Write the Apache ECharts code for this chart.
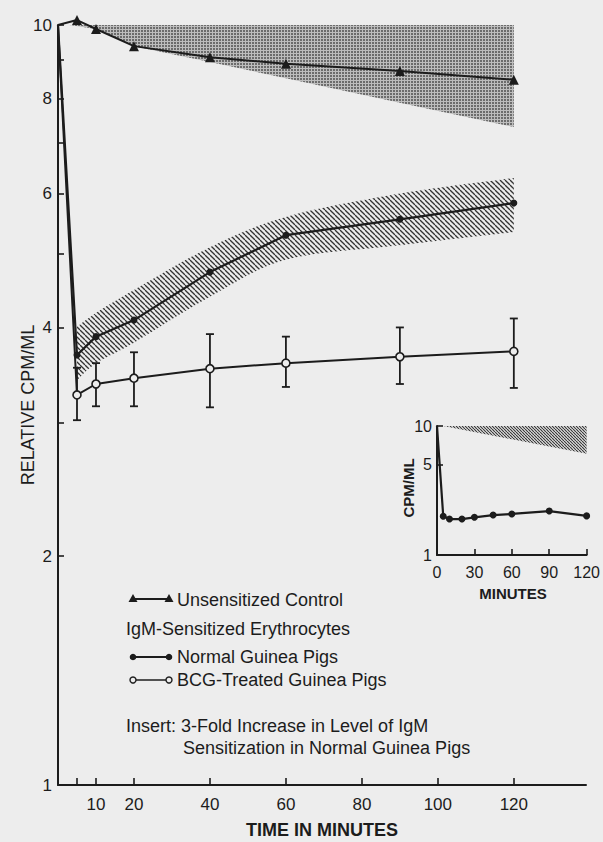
<!DOCTYPE html>
<html><head><meta charset="utf-8">
<script src="https://cdn.jsdelivr.net/npm/echarts@6/dist/echarts.min.js"></script>
<style>html,body{margin:0;padding:0;background:#ededed}#c{width:603px;height:842px}</style>
</head><body><div id="c"></div>
<script>
// ---------------- data ----------------
const timeMain = [0, 5, 10, 20, 40, 60, 90, 120];
const controlVals = [10, 10.15, 9.88, 9.38, 9.07, 8.89, 8.70, 8.47];
const normalVals = [10, 3.68, 3.89, 4.09, 4.73, 5.29, 5.55, 5.83];
const bcgVals = [10, 3.26, 3.37, 3.43, 3.53, 3.59, 3.66, 3.72];
const bcgErrTime = [5, 10, 20, 40, 60, 90, 120];
const bcgErrHigh = [3.54, 3.59, 3.71, 3.92, 3.89, 4.00, 4.11];
const bcgErrLow = [3.02, 3.15, 3.15, 3.14, 3.34, 3.37, 3.33];
const controlBandX = [3, 10, 20, 40, 60, 90, 120];
const controlBandHigh = [10, 10, 10, 10, 10, 10, 10];
const controlBandLow = [10, 9.88, 9.38, 8.94, 8.51, 7.90, 7.34];
const normalBandX = [5, 10, 20, 40, 60, 90, 120];
const normalBandHigh = [4.01, 4.18, 4.48, 5.10, 5.59, 6.00, 6.29];
const normalBandLow = [3.41, 3.59, 3.82, 4.39, 4.91, 5.13, 5.34];
const insetTime = [0, 5, 10, 20, 30, 45, 60, 90, 120];
const insetVals = [10, 2.00, 1.90, 1.90, 1.96, 2.04, 2.08, 2.19, 2.01];
const insetBandX = [5, 120];
const insetBandHigh = [10, 10];
const insetBandLow = [10, 6.1];
const mainXTicks = [5, 10, 20, 40, 60, 80, 100, 120];
const mainXLabels = [10, 20, 40, 60, 80, 100, 120];
const mainYTicks = [2, 3, 4, 5, 6, 7, 8, 9, 10];
const mainYLabels = [1, 2, 4, 6, 8, 10];
const insetXTicks = [30, 60, 90, 120];
const insetXLabels = [0, 30, 60, 90, 120];
const insetYTicks = [5, 10];
const insetYLabels = [1, 5, 10];
const legendNames = ['Unsensitized Control', 'Normal Guinea Pigs', 'BCG-Treated Guinea Pigs'];
const legendHeading = 'IgM-Sensitized Erythrocytes';
const insertNote1 = 'Insert: 3-Fold Increase in Level of IgM';
const insertNote2 = 'Sensitization in Normal Guinea Pigs';

// ---------------- styles ----------------
const INK = '#1c1c1c';
const BG = '#ededed';
const FONT = "'Liberation Sans', Arial, sans-serif";

function makePattern(kind) {
  const c = document.createElement('canvas');
  let w, h;
  const ctx = c.getContext('2d');
  if (kind === 'stipple') {
    w = 3; h = 3; c.width = w; c.height = h;
    ctx.fillStyle = '#bdbdbd'; ctx.fillRect(0, 0, 3, 3);
    ctx.fillStyle = '#6c6c6c'; ctx.fillRect(0, 0, 2, 2);
  } else {
    const s = kind === 'hatch' ? 5 : 3;
    w = s; h = s; c.width = s; c.height = s;
    ctx.strokeStyle = kind === 'hatch' ? '#333333' : '#3a3a3a';
    ctx.lineWidth = kind === 'hatch' ? 1.3 : 1.2;
    for (const k of [-s, 0, s]) {
      ctx.beginPath(); ctx.moveTo(k, 0); ctx.lineTo(k + s, s); ctx.stroke();
    }
  }
  return { image: c.toDataURL(), repeat: 'repeat', imageWidth: w, imageHeight: h };
}
const stipple = makePattern('stipple');
const hatch = makePattern('hatch');
const fineHatch = makePattern('fine');

function spline(pts) {
  let d = '';
  for (let i = 0; i < pts.length - 1; i++) {
    const p0 = pts[i - 1] || pts[i], p1 = pts[i], p2 = pts[i + 1], p3 = pts[i + 2] || pts[i + 1];
    const c1 = [p1[0] + (p2[0] - p0[0]) / 6, p1[1] + (p2[1] - p0[1]) / 6];
    const c2 = [p2[0] - (p3[0] - p1[0]) / 6, p2[1] - (p3[1] - p1[1]) / 6];
    d += ' C' + c1[0] + ',' + c1[1] + ' ' + c2[0] + ',' + c2[1] + ' ' + p2[0] + ',' + p2[1];
  }
  return d;
}
function bandSeries(xs, lo, hi, xi, fill, smooth) {
  return {
    type: 'custom', xAxisIndex: xi, yAxisIndex: xi, z: 1, silent: true,
    data: xs.map((x, i) => [x, lo[i], hi[i]]),
    renderItem: function (params, api) {
      if (params.dataIndex !== 0) return null;
      const up = xs.map((x, i) => api.coord([x, hi[i]]));
      const dn = xs.map((x, i) => api.coord([x, lo[i]])).reverse();
      let d;
      if (smooth) {
        d = 'M' + up[0][0] + ',' + up[0][1] + spline(up) + ' L' + dn[0][0] + ',' + dn[0][1] + spline(dn) + ' Z';
      } else {
        d = 'M' + up.map(p => p[0] + ',' + p[1]).join(' L') + ' L' + dn.map(p => p[0] + ',' + p[1]).join(' L') + ' Z';
      }
      return { type: 'path', shape: { pathData: d }, style: { fill: fill, stroke: null } };
    }
  };
}

const axisLabelStyle = (size) => ({ color: INK, fontSize: size, fontFamily: FONT });

const option = {
  backgroundColor: BG,
  animation: false,
  grid: [
    { left: 58, top: 25, width: 528, height: 760 },
    { left: 437, top: 426, width: 150, height: 129 }
  ],
  xAxis: [
    {
      type: 'value', gridIndex: 0, min: 0, max: 139,
      axisLine: { show: true, onZero: false, lineStyle: { color: INK, width: 2 } },
      axisTick: { show: true, inside: true, length: 7, customValues: mainXTicks, lineStyle: { color: INK, width: 1.6 } },
      axisLabel: Object.assign({ customValues: mainXLabels, margin: 11 }, axisLabelStyle(17)),
      splitLine: { show: false }
    },
    {
      type: 'value', gridIndex: 1, min: 0, max: 120,
      axisLine: { show: true, onZero: false, lineStyle: { color: INK, width: 2 } },
      axisTick: { show: true, inside: true, length: 6, customValues: insetXTicks, lineStyle: { color: INK, width: 1.6 } },
      axisLabel: Object.assign({ customValues: insetXLabels, margin: 9 }, axisLabelStyle(16)),
      splitLine: { show: false }
    }
  ],
  yAxis: [
    {
      type: 'log', logBase: 10, gridIndex: 0, min: 1, max: 10,
      axisLine: { show: true, lineStyle: { color: INK, width: 2 } },
      axisTick: { show: true, inside: true, length: 6, customValues: mainYTicks, lineStyle: { color: INK, width: 1.6 } },
      axisLabel: Object.assign({ customValues: mainYLabels, margin: 6 }, axisLabelStyle(17)),
      splitLine: { show: false }
    },
    {
      type: 'log', logBase: 10, gridIndex: 1, min: 1, max: 10,
      axisLine: { show: true, lineStyle: { color: INK, width: 2 } },
      axisTick: { show: true, inside: true, length: 6, customValues: insetYTicks, lineStyle: { color: INK, width: 1.6 } },
      axisLabel: Object.assign({ customValues: insetYLabels, margin: 5 }, axisLabelStyle(16)),
      splitLine: { show: false }
    }
  ],
  series: [
    bandSeries(controlBandX, controlBandLow, controlBandHigh, 0, stipple, false),
    bandSeries(normalBandX, normalBandLow, normalBandHigh, 0, hatch, true),
    bandSeries(insetBandX, insetBandLow, insetBandHigh, 1, fineHatch, false),
    {
      name: legendNames[0], type: 'line', xAxisIndex: 0, yAxisIndex: 0, z: 5, clip: false,
      data: timeMain.map((t, i) => [t, controlVals[i]]),
      symbol: (v) => v[0] === 0 ? 'none' : 'triangle', symbolSize: 10, showAllSymbol: true,
      lineStyle: { color: INK, width: 2 }, itemStyle: { color: INK }
    },
    {
      name: legendNames[1], type: 'line', xAxisIndex: 0, yAxisIndex: 0, z: 5, clip: false,
      data: timeMain.map((t, i) => [t, normalVals[i]]),
      symbol: (v) => v[0] === 0 ? 'none' : 'circle', symbolSize: 7, showAllSymbol: true,
      lineStyle: { color: INK, width: 2.2 }, itemStyle: { color: INK }
    },
    {
      name: 'BCG error', type: 'custom', xAxisIndex: 0, yAxisIndex: 0, z: 4, silent: true,
      data: bcgErrTime.map((t, i) => [t, bcgErrLow[i], bcgErrHigh[i]]),
      renderItem: function (params, api) {
        const lo = api.coord([api.value(0), api.value(1)]);
        const hi = api.coord([api.value(0), api.value(2)]);
        const st = { stroke: INK, lineWidth: 1.8 };
        return {
          type: 'group', children: [
            { type: 'line', shape: { x1: lo[0], y1: lo[1], x2: hi[0], y2: hi[1] }, style: st },
            { type: 'line', shape: { x1: lo[0] - 4, y1: lo[1], x2: lo[0] + 4, y2: lo[1] }, style: st },
            { type: 'line', shape: { x1: hi[0] - 4, y1: hi[1], x2: hi[0] + 4, y2: hi[1] }, style: st }
          ]
        };
      }
    },
    {
      name: legendNames[2], type: 'line', xAxisIndex: 0, yAxisIndex: 0, z: 6, clip: false,
      data: timeMain.map((t, i) => [t, bcgVals[i]]),
      symbol: (v) => v[0] === 0 ? 'none' : 'circle', symbolSize: 8, showAllSymbol: true,
      lineStyle: { color: INK, width: 2 }, itemStyle: { color: BG, borderColor: INK, borderWidth: 1.6 }
    },
    {
      name: 'Insert', type: 'line', xAxisIndex: 1, yAxisIndex: 1, z: 5, clip: false,
      data: insetTime.map((t, i) => [t, insetVals[i]]),
      symbol: (v) => v[0] === 0 ? 'none' : 'circle', symbolSize: 7, showAllSymbol: true,
      lineStyle: { color: INK, width: 2.2 }, itemStyle: { color: INK }
    }
  ],
  graphic: [
    { type: 'text', x: 322, y: 830, style: { text: 'TIME IN MINUTES', fill: INK, font: 'bold 18px ' + FONT, align: 'center', verticalAlign: 'middle' } },
    { type: 'text', x: 28, y: 405, rotation: Math.PI / 2, style: { text: 'RELATIVE CPM/ML', fill: INK, font: '18px ' + FONT, align: 'center', verticalAlign: 'middle' } },
    { type: 'text', x: 408, y: 488, rotation: Math.PI / 2, style: { text: 'CPM/ML', fill: INK, font: 'bold 15px ' + FONT, align: 'center', verticalAlign: 'middle' } },
    { type: 'text', x: 513, y: 593, style: { text: 'MINUTES', fill: INK, font: 'bold 15px ' + FONT, align: 'center', verticalAlign: 'middle' } },
    // legend row 1
    { type: 'line', shape: { x1: 133, y1: 599, x2: 169, y2: 599 }, style: { stroke: INK, lineWidth: 2 } },
    { type: 'polygon', shape: { points: [[133, 594], [128.5, 602], [137.5, 602]] }, style: { fill: INK } },
    { type: 'polygon', shape: { points: [[169, 594], [164.5, 602], [173.5, 602]] }, style: { fill: INK } },
    { type: 'text', x: 177, y: 600, style: { text: legendNames[0], fill: INK, font: '18px ' + FONT, verticalAlign: 'middle' } },
    { type: 'text', x: 126, y: 629, style: { text: legendHeading, fill: INK, font: '18px ' + FONT, verticalAlign: 'middle' } },
    // legend row 3
    { type: 'line', shape: { x1: 133, y1: 657, x2: 169, y2: 657 }, style: { stroke: INK, lineWidth: 2 } },
    { type: 'circle', shape: { cx: 133, cy: 657, r: 3.3 }, style: { fill: INK } },
    { type: 'circle', shape: { cx: 169, cy: 657, r: 3.3 }, style: { fill: INK } },
    { type: 'text', x: 177, y: 657, style: { text: legendNames[1], fill: INK, font: '18px ' + FONT, verticalAlign: 'middle' } },
    // legend row 4
    { type: 'line', shape: { x1: 133, y1: 680, x2: 169, y2: 680 }, style: { stroke: INK, lineWidth: 1.6 } },
    { type: 'circle', shape: { cx: 133, cy: 680, r: 3 }, style: { fill: BG, stroke: INK, lineWidth: 1.4 } },
    { type: 'circle', shape: { cx: 169, cy: 680, r: 3 }, style: { fill: BG, stroke: INK, lineWidth: 1.4 } },
    { type: 'text', x: 177, y: 680, style: { text: legendNames[2], fill: INK, font: '18px ' + FONT, verticalAlign: 'middle' } },
    { type: 'text', x: 126, y: 726, style: { text: insertNote1, fill: INK, font: '18px ' + FONT, verticalAlign: 'middle' } },
    { type: 'text', x: 183, y: 748, style: { text: insertNote2, fill: INK, font: '18px ' + FONT, verticalAlign: 'middle' } }
  ]
};
const chart = echarts.init(document.getElementById('c'), null, { renderer: 'svg', width: 603, height: 842 });
chart.setOption(option);
</script>
</body></html>
